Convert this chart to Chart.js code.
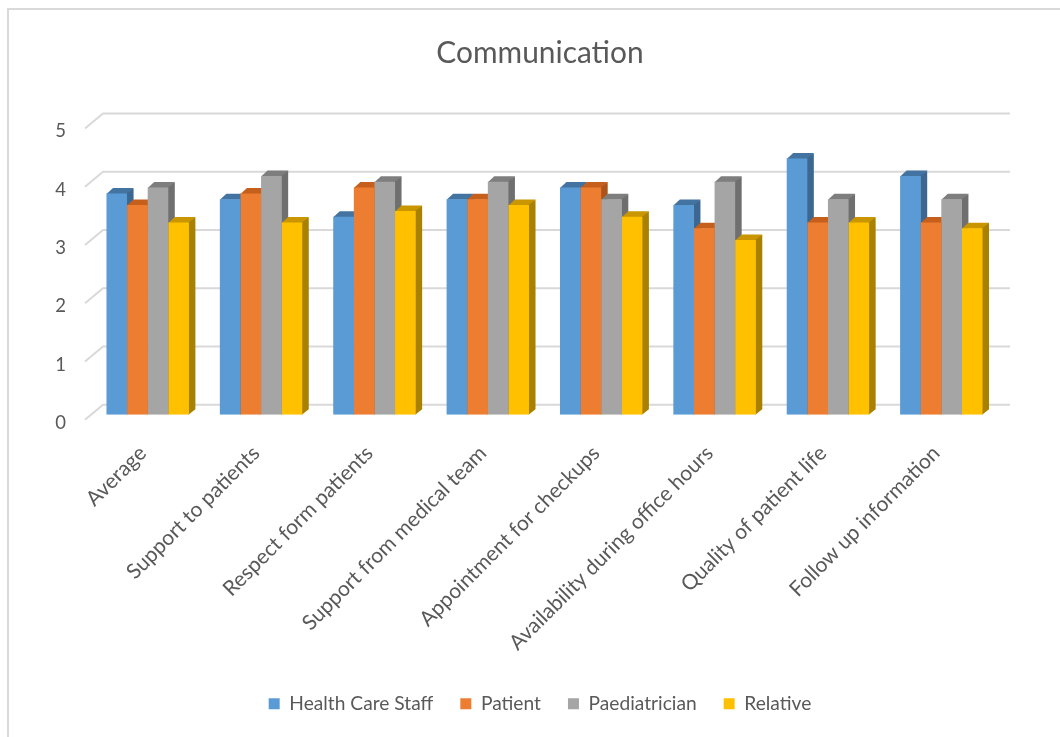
<!DOCTYPE html>
<html>
<head>
<meta charset="utf-8">
<title>Communication</title>
<script src="https://cdn.jsdelivr.net/npm/chart.js@4.4.1/dist/chart.umd.min.js"></script>
<style>
  html, body { margin: 0; padding: 0; background: #ffffff; }
  #wrap { width: 1060px; height: 737px; position: relative; }
</style>
</head>
<body>
<div id="wrap"><canvas id="chart" width="1060" height="737"></canvas></div>
<script>
// Survey items (x categories)
const categories = [
  'Average',
  'Support to patients',
  'Respect form patients',
  'Support from medical team',
  'Appointment for checkups',
  'Availability during office hours',
  'Quality of patient life',
  'Follow up information'
];

// Mean scores per respondent group
const healthCareStaff = [3.8, 3.7, 3.4, 3.7, 3.9, 3.6, 4.4, 4.1];
const patient         = [3.6, 3.8, 3.9, 3.7, 3.9, 3.2, 3.3, 3.3];
const paediatrician   = [3.9, 4.1, 4.0, 4.0, 3.7, 4.0, 3.7, 3.7];
const relative        = [3.3, 3.3, 3.5, 3.6, 3.4, 3.0, 3.3, 3.2];

const seriesNames = ['Health Care Staff', 'Patient', 'Paediatrician', 'Relative'];
const seriesValues = [healthCareStaff, patient, paediatrician, relative];

// Y axis range and step
const yMin = 0;
const yMax = 5;
const yStep = 1;

// Face colours for the extruded columns: front, top, side
const frontColors = ['#5B9BD5', '#ED7D31', '#A5A5A5', '#FFC000'];
const topColors   = ['#4373A0', '#C65F1C', '#7E7E7E', '#C99600'];
const sideColors  = ['#3B6790', '#AD5219', '#6F6F6F', '#A88100'];

const TEXT = '#595959';
const GRID = '#d9d9d9';
const FONT = 'Lato';

// Depth of each column and of the back wall (in pixels)
const BAR_DX = 6.5, BAR_DY = 5.5;
const WALL_DX = 12, WALL_DY = 10;
const FLOOR_DX = 6, FLOOR_DY = 5;

// Outer frame of the chart object
const framePlugin = {
  id: 'frame',
  beforeDraw(chart) {
    const { ctx, width, height } = chart;
    ctx.save();
    ctx.fillStyle = '#ffffff';
    ctx.fillRect(0, 0, width, height);
    ctx.strokeStyle = '#d9d9d9';
    ctx.lineWidth = 2;
    ctx.beginPath();
    ctx.moveTo(8, height);
    ctx.lineTo(8, 9);
    ctx.lineTo(width, 9);
    ctx.stroke();
    ctx.restore();
  }
};

// Back-wall gridlines plus the top and side faces of every column
const depthPlugin = {
  id: 'depth',
  beforeDatasetsDraw(chart) {
    const { ctx, chartArea, scales } = chart;
    const y = scales.y;
    ctx.save();
    ctx.strokeStyle = GRID;
    ctx.lineWidth = 2;
    ctx.lineCap = 'butt';
    y.ticks.forEach(t => {
      const py = y.getPixelForValue(t.value);
      ctx.beginPath();
      ctx.moveTo(chartArea.left - FLOOR_DX, py + FLOOR_DY);
      ctx.lineTo(chartArea.left + WALL_DX, py - WALL_DY);
      ctx.lineTo(chartArea.right + WALL_DX, py - WALL_DY);
      ctx.stroke();
    });

    const metas = chart.data.datasets.map((d, i) => chart.getDatasetMeta(i));
    const count = chart.data.labels.length;
    for (let j = 0; j < count; j++) {
      for (let i = 0; i < metas.length; i++) {
        const bar = metas[i].data[j];
        if (!bar) continue;
        const p = bar.getProps(['x', 'y', 'base', 'width'], true);
        const l = p.x - p.width / 2;
        const r = p.x + p.width / 2;
        const top = p.y;
        const base = p.base;
        // top face
        ctx.fillStyle = topColors[i];
        ctx.beginPath();
        ctx.moveTo(l, top + 0.5);
        ctx.lineTo(l + BAR_DX, top - BAR_DY);
        ctx.lineTo(r + BAR_DX, top - BAR_DY);
        ctx.lineTo(r, top + 0.5);
        ctx.closePath();
        ctx.fill();
        // side face
        ctx.fillStyle = sideColors[i];
        ctx.beginPath();
        ctx.moveTo(r - 0.5, top);
        ctx.lineTo(r + BAR_DX, top - BAR_DY);
        ctx.lineTo(r + BAR_DX, base - BAR_DY);
        ctx.lineTo(r - 0.5, base);
        ctx.closePath();
        ctx.fill();
      }
    }
    ctx.restore();
  }
};

const datasets = seriesNames.map((name, i) => ({
  label: name,
  data: seriesValues[i],
  backgroundColor: frontColors[i],
  borderWidth: 0,
  categoryPercentage: 0.727,
  barPercentage: 1.0
}));

new Chart(document.getElementById('chart'), {
  type: 'bar',
  data: { labels: categories, datasets },
  plugins: [framePlugin, depthPlugin],
  options: {
    responsive: false,
    animation: false,
    devicePixelRatio: 1,
    layout: { padding: { left: 20, right: 0, top: 0, bottom: 13.6 } },
    scales: {
      x: {
        grid: { display: false, drawTicks: false },
        border: { display: false },
        ticks: {
          color: TEXT,
          font: { family: FONT, size: 21 },
          minRotation: 45,
          maxRotation: 45,
          autoSkip: false,
          padding: 26,
          labelOffset: -5
        },
        afterFit(scale) { scale.height = 252.4; }
      },
      y: {
        min: yMin,
        max: yMax,
        grid: { display: false, drawTicks: false },
        border: { display: false },
        ticks: {
          stepSize: yStep,
          color: TEXT,
          font: { family: FONT, size: 18.5 },
          padding: 25,
          labelOffset: 8
        },
        afterFit(scale) { scale.width = 71; }
      },
      yRight: {
        position: 'right',
        display: true,
        grid: { display: false, drawTicks: false },
        border: { display: false },
        ticks: { display: false },
        afterFit(scale) { scale.width = 62; }
      }
    },
    plugins: {
      title: {
        display: true,
        text: 'Communication',
        color: TEXT,
        font: { family: FONT, size: 29.9, weight: 400 },
        padding: { top: 35, bottom: 52.6 }
      },
      legend: {
        display: true,
        position: 'bottom',
        labels: {
          color: TEXT,
          font: { family: FONT, size: 19.2 },
          boxWidth: 11,
          boxHeight: 11,
          padding: 27
        }
      },
      tooltip: { enabled: false }
    }
  }
});
</script>
</body>
</html>
